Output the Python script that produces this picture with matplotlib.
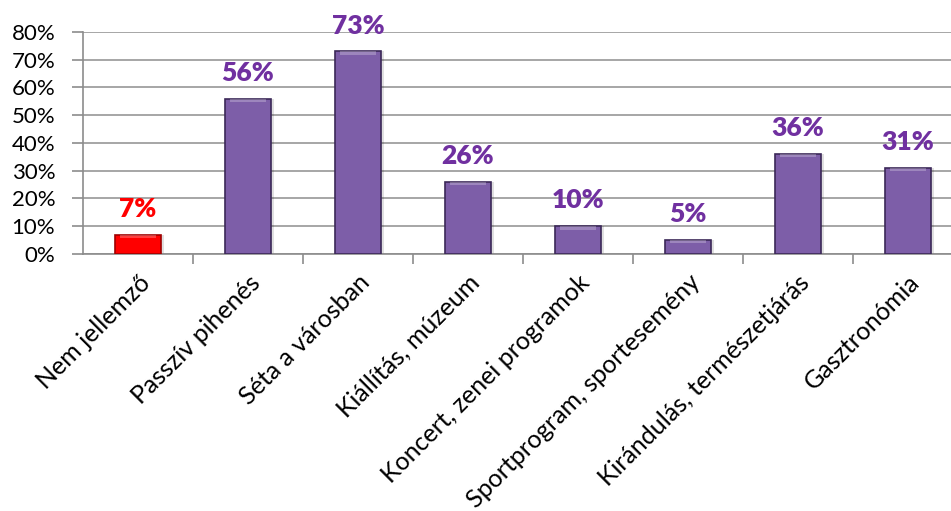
import numpy as np
import matplotlib.pyplot as plt
from matplotlib.ticker import PercentFormatter

# Data
categories = ['Nem jellemző', 'Passzív pihenés', 'Séta a városban', 'Kiállítás, múzeum',
              'Koncert, zenei programok', 'Sportprogram, sportesemény',
              'Kirándulás, természetjárás', 'Gasztronómia']
values = [7, 56, 73, 26, 10, 5, 36, 31]
highlight = [True, False, False, False, False, False, False, False]

plt.rcParams['font.family'] = ['Lato', 'DejaVu Sans']

fig = plt.figure(figsize=(9.51, 5.11), dpi=100)
# axes runs slightly past the right edge, as in the original crop
ax = fig.add_axes([83 / 951, 257 / 511, 880 / 951, 222 / 511])

x = np.arange(len(categories))
face = ['#ff0000' if h else '#7d5ea8' for h in highlight]
edge = ['#a00000' if h else '#3b2858' for h in highlight]
lab_col = ['#ff0000' if h else '#7030a0' for h in highlight]

w = 0.42
ax.bar(x + 0.03, values, width=w, color='#000000', alpha=0.12, zorder=2)  # soft shadow
ax.bar(x, values, width=w, color=face, edgecolor=edge, linewidth=1.2, zorder=3)
# bevel highlight on top of bars
top = [min(v, 1.2) for v in values]
ax.bar(x, top, width=w * 0.8, bottom=np.array(values) - np.array(top),
       color='white', alpha=0.25, zorder=4)

for xi, v, c in zip(x, values, lab_col):
    ax.annotate(f'{v}%', (xi, v), xytext=(0, 10), textcoords='offset points',
                ha='center', va='bottom', fontsize=19, fontweight='heavy', color=c)

ax.set_xlim(-0.5, len(categories) - 0.5)
ax.set_ylim(0, 80)
ax.set_yticks(np.arange(0, 81, 10))
ax.yaxis.set_major_formatter(PercentFormatter(decimals=0))
ax.grid(axis='y', color='#a6a6a6', linewidth=1.4, zorder=0)
ax.set_axisbelow(True)

ax.set_xticks(x)
ax.set_xticklabels(categories, rotation=45, ha='right', va='top',
                   rotation_mode='anchor', fontsize=18)
ax.set_xticks(np.arange(0.5, len(categories) - 0.5, 1), minor=True)
ax.tick_params(axis='x', which='major', length=0, pad=12)
ax.tick_params(axis='x', which='minor', length=7, color='#8c8c8c', width=1.2)
ax.tick_params(axis='y', length=8, color='#8c8c8c', width=1.2, labelsize=16, pad=12)

for s in ['top', 'right']:
    ax.spines[s].set_visible(False)
for s in ['left', 'bottom']:
    ax.spines[s].set_color('#8c8c8c')
    ax.spines[s].set_linewidth(1.2)

plt.savefig('out.png', dpi=100)
